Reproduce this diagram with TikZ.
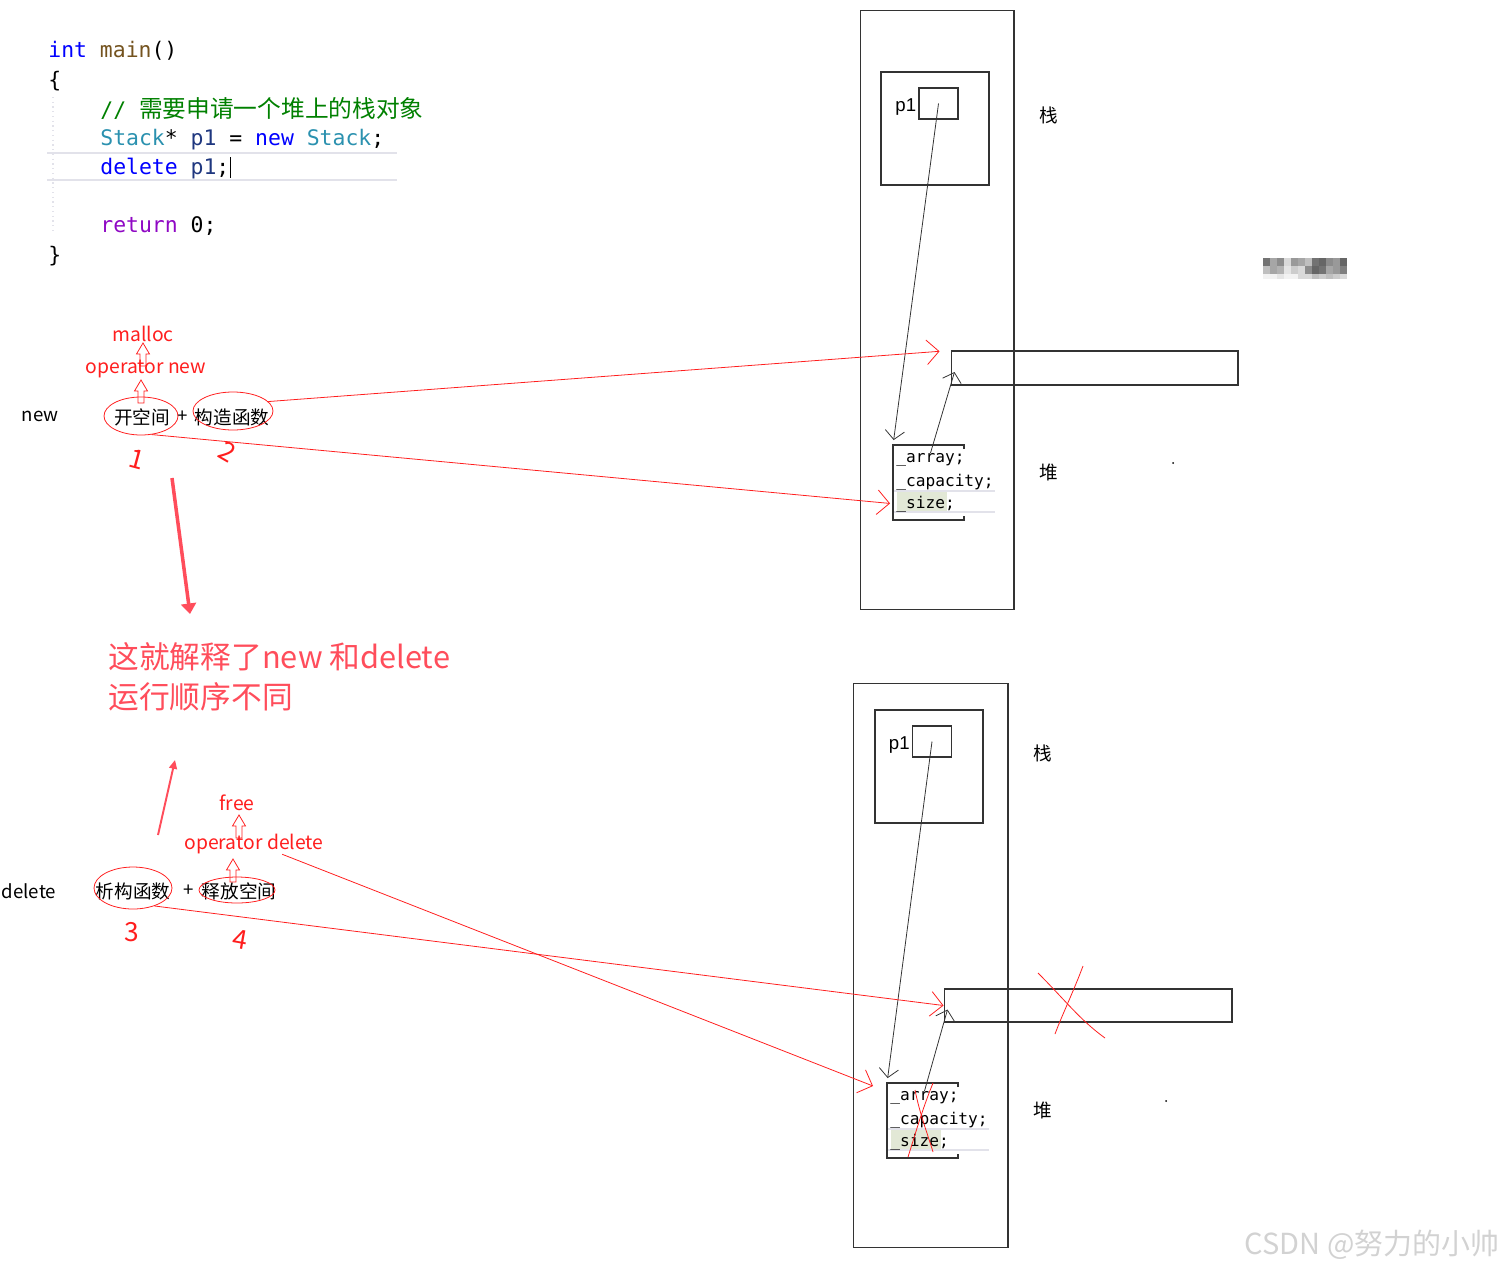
\documentclass[tikz,border=0pt]{standalone}
\usepackage{fontspec}
\setmainfont{Noto Sans CJK SC}
\setmonofont{DejaVu Sans Mono}
\newfontfamily\cjk{Noto Sans CJK SC}
\newfontfamily\arial{Liberation Sans}
\usepackage{tikz}
\usetikzlibrary{arrows.meta,positioning,shapes.geometric,calc}
\usepackage{xcolor}
\definecolor{annred}{HTML}{FF1E1E}
\definecolor{bigred}{HTML}{FF4D5B}
\definecolor{kwblue}{HTML}{0000FF}
\definecolor{fnbrown}{HTML}{74531F}
\definecolor{cmgreen}{HTML}{008000}
\definecolor{tyteal}{HTML}{2B91AF}
\definecolor{varnavy}{HTML}{1F377F}
\definecolor{kwpurple}{HTML}{8F08C4}
\definecolor{memgray}{HTML}{333333}
\definecolor{edgray}{HTML}{E2E2EA}
\definecolor{hlgreen}{HTML}{E2E8D6}

\begin{document}
\begin{tikzpicture}[
  x=0.02cm, y=-0.02cm,
  code/.style={font=\ttfamily\fontsize{12.2}{14}\selectfont, anchor=base west, inner sep=0},
  lbl/.style={font=\fontsize{10.6}{13}\selectfont, inner sep=0},
  ann/.style={text=annred, font=\fontsize{11}{13}\selectfont, inner sep=0},
  hand/.style={text=annred, font=\fontsize{15}{16}\selectfont, inner sep=0},
  ring/.style={ellipse, draw=annred, line width=0.45pt, inner sep=0},
  mem/.style={draw=memgray, line width=0.6pt, inner sep=0},
  fld/.style={font=\ttfamily\fontsize{9.2}{11}\selectfont, anchor=west, inner sep=0},
  edline/.style={draw=edgray, line width=0.7pt},
  ptr/.style={-{Straight Barb[length=5pt,width=11pt]}, line width=0.45pt, draw=memgray},
  redarr/.style={-{Straight Barb[length=7pt,width=14pt]}, line width=0.45pt, draw=annred},
  cross/.style={draw=annred, line width=0.45pt},
  bigarr/.style={draw=bigred, line width=2pt, -{Triangle[length=6pt,width=8.5pt]}},
  uparr/.pic={\draw[annred, line width=0.45pt] (-3,0) -- (-3,-12) -- (-6.5,-12) -- (0,-23) -- (6.5,-12) -- (3,-12) -- (3,0) -- cycle;},
]
\useasboundingbox (0,0) rectangle (1506,1271);

% source code
\draw[edline] (47,153) -- (397,153);
\draw[edline] (47,180) -- (397,180);
\draw[edgray, dotted, line width=0.7pt] (53,97) -- (53,233);
\node[code] (l1) at (48,57) {\textcolor{kwblue}{int} \textcolor{fnbrown}{main}()};
\node[code] (l2) at (48,87) {\{};
\node[code] (l3) at (100,117) {\textcolor{cmgreen}{// {\cjk\fontsize{13.5}{15}\selectfont 需要申请一个堆上的栈对象}}};
\node[code] (l4) at (100,145) {\textcolor{tyteal}{Stack}* \textcolor{varnavy}{p1} = \textcolor{kwblue}{new} \textcolor{tyteal}{Stack};};
\node[code] (l5) at (100,174) {\textcolor{kwblue}{delete} \textcolor{varnavy}{p1};};
\draw[line width=0.6pt] ($(l5.east)+(1,-11)$) -- ($(l5.east)+(1,10)$);
\node[code] (l6) at (100,232) {\textcolor{kwpurple}{return} 0;};
\node[code] (l7) at (48,262) {\}};

% blurred mark
\foreach \g [count=\i] in {55,35,45,15,40,35,25,55,60,45,40,60}
  \fill[black!\g] ({1256+7*\i},258) rectangle +(7,8);
\foreach \g [count=\i] in {25,35,30,10,20,15,45,60,55,35,40,50}
  \fill[black!\g] ({1256+7*\i},266) rectangle +(7,8);
\foreach \g [count=\i] in {5,5,10,5,5,15,15,25,20,25,20,15}
  \fill[black!\g] ({1256+7*\i},274) rectangle +(7,5);

% new
\node[lbl] (newkw) at (40,416) {new};
\node[lbl] (kai) at (142,417) {开空间};
\node[lbl] (plusA) at (183,417) {+};
\node[lbl] (ctor) at (232,417) {构造函数};
\node[ring, minimum width=1.48cm, minimum height=0.76cm] (kaiR) at (141,416) {};
\node[ring, minimum width=1.6cm, minimum height=0.76cm] (ctorR) at (233,411) {};
\node[ann] (opnew) at (146,369) {operator new};
\node[ann] (malloc) at (143,334) {malloc};
\pic at (141,403) {uparr};
\pic at (143,366) {uparr};
\node[hand, rotate=-15] (n1) at (137,459) {1};
\node[hand, rotate=-30] (n2) at (228,452) {2};

% explanation
\coordinate (downTail) at (172,478);
\coordinate (downTip) at (190,614);
\draw[bigarr] (downTail) -- (downTip);
\node[text=bigred, font=\fontsize{17.5}{22.7}\selectfont, align=left, anchor=west, inner sep=0] (note) at (108,677) {这就解释了new 和delete\\运行顺序不同};
\coordinate (upTail) at (158,835);
\coordinate (upTip) at (175,760);
\draw[bigarr, line width=1.1pt, -{Triangle[length=5pt,width=4.5pt]}] (upTail) -- (upTip);

% delete
\node[lbl] (delkw) at (29,891) {delete};
\node[lbl] (dtor) at (133,891) {析构函数};
\node[lbl] (plusB) at (189,891) {+};
\node[lbl] (rel) at (239,891) {释放空间};
\node[ring, minimum width=1.56cm, minimum height=0.84cm] (dtorR) at (133,888) {};
\node[ring, minimum width=1.52cm, minimum height=0.52cm] (relR) at (237,890) {};
\node[ann] (opdel) at (254,844) {operator delete};
\node[ann] (free) at (237,803) {free};
\pic at (233,882) {uparr};
\pic at (239,838) {uparr};
\node[hand] (n3) at (132,932) {3};
\node[hand, rotate=-10] (n4) at (240,940) {4};

% memory after new
\node[mem, minimum width=3.08cm, minimum height=12cm] (frameA) at (937,310) {};
\node[mem, minimum width=2.16cm, minimum height=2.26cm] (stackA) at (935,128.5) {};
\node[mem, minimum width=0.78cm, minimum height=0.62cm] (pA) at (938.5,103.5) {};
\node[lbl, font=\arial\fontsize{10.6}{13}\selectfont, left=0.04cm of pA, yshift=-0.08cm] (pAl) {p1};
\node[lbl] (zhanA) at (1049,115) {栈};
\node[mem, minimum width=5.74cm, minimum height=0.68cm] (heapA) at (1094.5,368) {};
\fill[hlgreen] (897,492) rectangle (947,512);
\draw[edline] (893,491) -- (995,491);
\draw[edline] (893,512) -- (995,512);
\node[fld] (arrA) at (896,460) {\_array;};
\node[fld] (capA) at (896,482) {\_capacity;};
\node[fld] (sizeA) at (896,504) {\_size;};
\coordinate (objA) at (893,445);
\draw[mem] (964,449) -- (964,445) -- (objA) -- (893,520) -- (964,520) -- (964,516);
\node[lbl] (duiA) at (1049,472) {堆};
\fill (1173,463) circle (1);
\draw[ptr, shorten >=0.1cm] (pA.center) -- (objA);
\draw[ptr] (arrA.north) -- ($(heapA.west)+(4,4)$);
\draw[redarr, shorten >=0.22cm] (ctorR.15) -- (heapA.north west);
\draw[redarr, shorten >=0.12cm] (kaiR.-60) -- (sizeA.west);

% memory after delete
\node[mem, minimum width=3.1cm, minimum height=11.3cm] (frameB) at (930.5,965.5) {};
\node[mem, minimum width=2.16cm, minimum height=2.26cm] (stackB) at (929,766.5) {};
\node[mem, minimum width=0.78cm, minimum height=0.62cm] (pB) at (932,741.5) {};
\node[lbl, font=\arial\fontsize{10.6}{13}\selectfont, left=0.04cm of pB, yshift=-0.07cm] (pBl) {p1};
\node[lbl] (zhanB) at (1043,753) {栈};
\node[mem, minimum width=5.76cm, minimum height=0.66cm] (heapB) at (1088,1005.5) {};
\fill[hlgreen] (891,1130) rectangle (941,1150);
\draw[edline] (887,1129) -- (989,1129);
\draw[edline] (887,1150) -- (989,1150);
\node[fld] (arrB) at (890,1098) {\_array;};
\node[fld] (capB) at (890,1120) {\_capacity;};
\node[fld] (sizeB) at (890,1142) {\_size;};
\coordinate (objB) at (887,1083);
\draw[mem] (958,1087) -- (958,1083) -- (objB) -- (887,1158) -- (958,1158) -- (958,1154);
\node[lbl] (duiB) at (1043,1110) {堆};
\fill (1166,1101) circle (1);
\draw[ptr, shorten >=0.1cm] (pB.center) -- (objB);
\draw[ptr] (arrB.north) -- ($(heapB.west)+(4,4)$);
\coordinate (delTip) at (873,1086);
\draw[redarr] (dtorR.-40) -- (heapB.west);
\draw[redarr] (opdel.-20) -- (delTip);
\draw[cross] (1038,973) .. controls (1065,1000) and (1080,1020) .. (1105,1038);
\draw[cross] (1083,966) .. controls (1072,995) and (1062,1015) .. (1055,1034);
\draw[cross] (933,1083) .. controls (922,1110) and (915,1135) .. (908,1157);
\draw[cross] (915,1090) .. controls (920,1115) and (928,1135) .. (933,1152);

% watermark
\node[text=gray!35, font=\fontsize{16.5}{18}\selectfont, inner sep=0] (wm) at (1372,1245) {CSDN @努力的小帅};
\end{tikzpicture}
\end{document}
